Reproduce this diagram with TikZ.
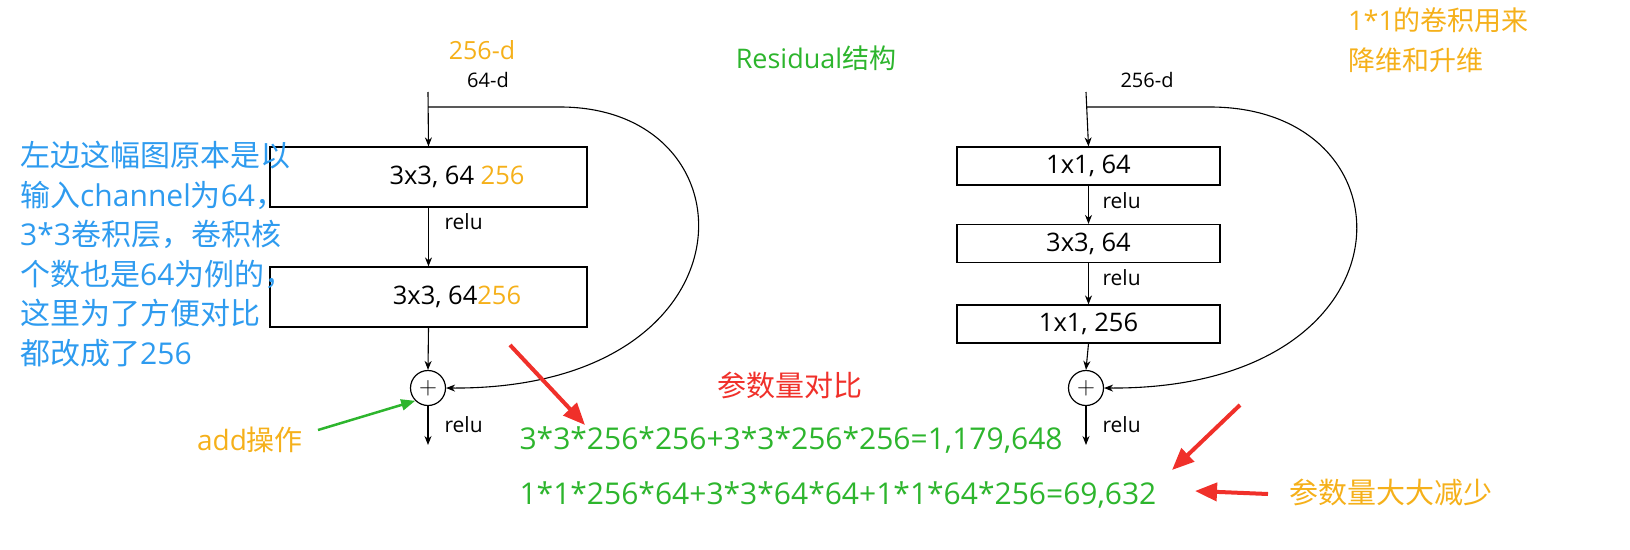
\documentclass[tikz,border=0pt]{standalone}
\usepackage{fontspec}
\setmainfont{Open Sans}
\newfontfamily\cjk{Noto Sans CJK SC}
\usetikzlibrary{arrows.meta}
\definecolor{og}{HTML}{F5B01A}
\definecolor{gr}{HTML}{2DB52D}
\definecolor{bl}{HTML}{2E9BEF}
\definecolor{rd}{HTML}{F0302A}
\begin{document}
\begin{tikzpicture}[x=1pt,y=-1pt,
 box/.style={draw,line width=1.2pt,minimum height=#1,inner sep=0pt},
 ar/.style={-{Stealth[length=9pt,width=7pt]},line width=1.1pt},
 lbl/.style={font=\fontsize{21}{24}\selectfont,anchor=west},
 bt/.style={font=\fontsize{25.5}{26}\selectfont},
 redar/.style={rd,line width=4pt,-{Triangle[length=22pt,width=18pt]}}]
% left
\node[og,font=\fontsize{25}{28}\selectfont] (d1) at (482,50) {256-d};
\node[font=\fontsize{20}{22}\selectfont] (d2) at (488,80) {64-d};
\coordinate (ls) at (428,92);
\node[box=60pt,minimum width=317pt] (b1) at (428.5,177) {};
\node[bt] at (457,177) {3x3, 64 \textcolor{og}{256}};
\node[box=60pt,minimum width=317pt] (b2) at (428.5,297) {};
\node[bt] at (457,297) {3x3, 64\textcolor{og}{256}};
\node[draw,circle,line width=1.2pt,minimum size=35pt,inner sep=0pt,font=\fontsize{24}{24}\selectfont] (c1) at (428,388) {$+$};
\coordinate (le) at (428,445);
\draw[ar] (ls) -- (b1.north);
\draw[ar] (b1.south) -- (b2.north);
\draw[ar] (b2.south) -- (c1.north);
\draw[ar] (c1.south) -- (le);
\node[lbl] at (441,222) {relu};
\node[lbl] at (441,425) {relu};
\draw[ar] (428,107) -- (560,107) .. controls (760,107) and (760,390) .. (c1.east);
% right
\node[font=\fontsize{20}{22}\selectfont] (d3) at (1147,80) {256-d};
\coordinate (rs) at (1086,92);
\node[box=38pt,minimum width=263pt] (r1) at (1088.5,166) {};
\node[bt] at (1088.5,166) {1x1, 64};
\node[box=38pt,minimum width=263pt] (r2) at (1088.5,243.5) {};
\node[bt] at (1088.5,243.5) {3x3, 64};
\node[box=38pt,minimum width=263pt] (r3) at (1088.5,324) {};
\node[bt] at (1088.5,324) {1x1, 256};
\node[draw,circle,line width=1.2pt,minimum size=35pt,inner sep=0pt,font=\fontsize{24}{24}\selectfont] (c2) at (1086,388) {$+$};
\coordinate (re) at (1086,445);
\draw[ar] (rs) -- (r1.north);
\draw[ar] (r1.south) -- (r2.north);
\draw[ar] (r2.south) -- (r3.north);
\draw[ar] (r3.south) -- (c2.north);
\draw[ar] (c2.south) -- (re);
\node[lbl] at (1099,201) {relu};
\node[lbl] at (1099,278) {relu};
\node[lbl] at (1099,425) {relu};
\draw[ar] (1086,107) -- (1210,107) .. controls (1420,107) and (1420,390) .. (c2.east);
% texts
\node[gr,font=\fontsize{27}{30}\selectfont] (t) at (816,58) {Residual{\cjk 结构}};
\node[og,font=\fontsize{27}{40}\selectfont,align=left,anchor=north west,inner sep=0pt] (tr) at (1348,8) {1*1{\cjk 的卷积用来}\\{\cjk 降维和升维}};
\node[bl,font=\fontsize{30}{39.5}\selectfont,align=left,anchor=north west,inner sep=0pt] (tl) at (20,141) {{\cjk 左边这幅图原本是以}\\{\cjk 输入}channel{\cjk 为}64{\cjk ，}\\3*3{\cjk 卷积层，卷积核}\\{\cjk 个数也是}64{\cjk 为例的，}\\{\cjk 这里为了方便对比}\\{\cjk 都改成了}256};
\node[og,font=\fontsize{28}{32}\selectfont] (add) at (250,440) {add{\cjk 操作}};
\draw[gr,line width=2.5pt,-{Triangle[length=14pt,width=11pt]}] (318,430) -- (c1.south west);
\node[rd,font=\fontsize{29}{32}\selectfont\cjk] (cmp) at (790,385) {参数量对比};
\node[gr,font=\fontsize{30}{32}\selectfont,anchor=west] (f1) at (516,440) {3*3*256*256+3*3*256*256=1,179,648};
\node[gr,font=\fontsize{30}{32}\selectfont,anchor=west] (f2) at (516,495) {1*1*256*64+3*3*64*64+1*1*64*256=69,632};
\node[og,font=\fontsize{29}{32}\selectfont\cjk] (rdt) at (1391,492) {参数量大大减少};
\coordinate (a1) at (510,345);
\draw[redar] (a1) -- (585,425);
\coordinate (a2) at (1240,405);
\draw[redar] (a2) -- (1172,470);
\coordinate (a3) at (1268,494);
\draw[redar] (a3) -- (1195,491);
\pgfresetboundingbox
\useasboundingbox (0,0) rectangle (1630,549);
\end{tikzpicture}
\end{document}
